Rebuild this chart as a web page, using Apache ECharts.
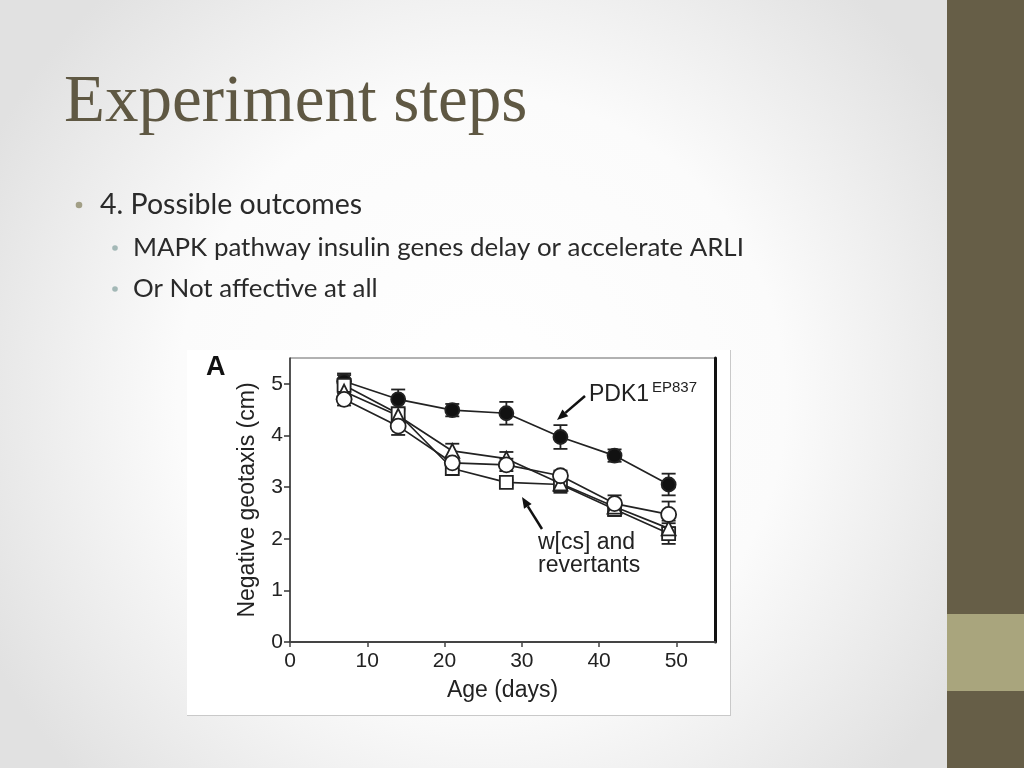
<!DOCTYPE html>
<html>
<head>
<meta charset="utf-8">
<script src="https://cdn.jsdelivr.net/npm/echarts@6/dist/echarts.min.js"></script>
<style>
html,body{margin:0;padding:0;width:1024px;height:768px;overflow:hidden;}
#chart{width:1024px;height:768px;}
</style>
</head>
<body>
<div id="chart"></div>
<script>
// ---- data ----
var days = [7, 14, 21, 28, 35, 42, 49];
var pdk1 = [5.05, 4.70, 4.49, 4.43, 3.97, 3.61, 3.05];
var pdk1Err = [0.15, 0.19, 0.12, 0.22, 0.23, 0.12, 0.21];
var wcsCircle = [4.70, 4.18, 3.47, 3.43, 3.22, 2.68, 2.47];
var wcsCircleErr = [0.12, 0.17, 0.12, 0.12, 0.10, 0.16, 0.25];
var revSquare = [4.97, 4.42, 3.36, 3.09, 3.05, 2.57, 2.10];
var revSquareErr = [0.20, 0.10, 0.08, 0.05, 0.16, 0.13, 0.20];
var revTriangle = [4.85, 4.38, 3.70, 3.55, 3.07, 2.62, 2.20];
var revTriangleErr = [0.10, 0.10, 0.14, 0.13, 0.12, 0.12, 0.15];
var xTicks = [0, 10, 20, 30, 40, 50];
var yTicks = [0, 1, 2, 3, 4, 5];

var slideTitle = 'Experiment steps';
var bullet1 = '4. Possible outcomes';
var bullet2a = 'MAPK pathway insulin genes delay or accelerate ARLI';
var bullet2b = 'Or Not affective at all';

var INK = '#222';
var SANS = '"Liberation Sans", Arial, sans-serif';

function pts(vals) { return days.map(function (d, i) { return [d, vals[i]]; }); }
function errPts(vals, errs) { return days.map(function (d, i) { return [d, vals[i], errs[i]]; }); }

function errSeries(name, vals, errs) {
  return {
    type: 'custom', name: name + ' err', z: 2,
    encode: { x: 0, y: 1 },
    data: errPts(vals, errs),
    renderItem: function (params, api) {
      var x = api.value(0), y = api.value(1), e = api.value(2);
      var t = api.coord([x, y + e]), b = api.coord([x, y - e]);
      var hw = 7;
      var st = { stroke: INK, lineWidth: 1.8 };
      return { type: 'group', children: [
        { type: 'line', shape: { x1: t[0], y1: t[1], x2: b[0], y2: b[1] }, style: st },
        { type: 'line', shape: { x1: t[0] - hw, y1: t[1], x2: t[0] + hw, y2: t[1] }, style: st },
        { type: 'line', shape: { x1: b[0] - hw, y1: b[1], x2: b[0] + hw, y2: b[1] }, style: st }
      ] };
    }
  };
}
function lineSeries(name, vals) {
  return { type: 'line', name: name, data: pts(vals), showSymbol: false, z: 3,
    lineStyle: { color: INK, width: 1.7 }, silent: true };
}
function markSeries(name, vals, symbol, size, fill, z) {
  return { type: 'scatter', name: name, data: pts(vals), symbol: symbol, symbolSize: size, z: z,
    itemStyle: { color: fill, borderColor: INK, borderWidth: 1.8, opacity: 1 } };
}

function arrow(x1, y1, x2, y2) {
  var ang = Math.atan2(y2 - y1, x2 - x1), L = 11, W = 4.5;
  var bx = x2 - L * Math.cos(ang), by = y2 - L * Math.sin(ang);
  var px = -Math.sin(ang) * W, py = Math.cos(ang) * W;
  return [
    { type: 'line', shape: { x1: x1, y1: y1, x2: bx, y2: by }, style: { stroke: '#111', lineWidth: 2.5 } },
    { type: 'polygon', shape: { points: [[x2, y2], [bx + px, by + py], [bx - px, by - py]] }, style: { fill: '#111' } }
  ];
}

var chart = echarts.init(document.getElementById('chart'));

var graphics = [
  // sidebar
  { type: 'rect', shape: { x: 947, y: 0, width: 77, height: 768 }, style: { fill: '#665e47' }, z: -10 },
  { type: 'rect', shape: { x: 947, y: 614, width: 77, height: 77 }, style: { fill: '#a9a57d' }, z: -9 },
  // figure panel
  { type: 'rect', shape: { x: 187, y: 350, width: 544, height: 366 }, style: { fill: '#ffffff' }, z: -8 },
  { type: 'line', shape: { x1: 730.5, y1: 350, x2: 730.5, y2: 716 }, style: { stroke: '#c9c9c9', lineWidth: 1 }, z: -7 },
  { type: 'line', shape: { x1: 187, y1: 715.5, x2: 731, y2: 715.5 }, style: { stroke: '#c9c9c9', lineWidth: 1 }, z: -7 },
  // slide title and bullets
  { type: 'text', x: 64, y: 103, style: { text: slideTitle, font: '67px "Liberation Serif", "Times New Roman", serif', fill: '#5f5843', textVerticalAlign: 'middle' } },
  { type: 'circle', shape: { cx: 79, cy: 205, r: 3.3 }, style: { fill: '#a29f86' } },
  { type: 'text', x: 100, y: 205, style: { text: bullet1, font: '28.5px Lato, "Noto Sans", sans-serif', fill: '#2a2a2a', textVerticalAlign: 'middle' } },
  { type: 'circle', shape: { cx: 115, cy: 248, r: 2.8 }, style: { fill: '#a3b8b6' } },
  { type: 'text', x: 133, y: 248, style: { text: bullet2a, font: '25.9px Lato, "Noto Sans", sans-serif', fill: '#2a2a2a', textVerticalAlign: 'middle' } },
  { type: 'circle', shape: { cx: 115, cy: 289, r: 2.8 }, style: { fill: '#a3b8b6' } },
  { type: 'text', x: 133, y: 289, style: { text: bullet2b, font: '25.9px Lato, "Noto Sans", sans-serif', fill: '#2a2a2a', textVerticalAlign: 'middle' } },
  // panel letter
  { type: 'text', x: 206, y: 368, style: { text: 'A', font: 'bold 27px ' + SANS, fill: '#111', textVerticalAlign: 'middle' } },
  // annotations
  { type: 'text', x: 589, y: 395, style: { text: 'PDK1', font: '23px ' + SANS, fill: INK, textVerticalAlign: 'middle' } },
  { type: 'text', x: 652, y: 388, style: { text: 'EP837', font: '15px ' + SANS, fill: INK, textVerticalAlign: 'middle' } },
  { type: 'text', x: 538, y: 543, style: { text: 'w[cs] and', font: '23px ' + SANS, fill: INK, textVerticalAlign: 'middle' } },
  { type: 'text', x: 538, y: 566, style: { text: 'revertants', font: '23px ' + SANS, fill: INK, textVerticalAlign: 'middle' } }
].concat(arrow(585, 396, 557, 420)).concat(arrow(542, 529, 522, 497));

var option = {
  animation: false,
  backgroundColor: {
    type: 'radial', x: 0.47, y: 0.52, r: 0.72,
    colorStops: [{ offset: 0, color: '#ffffff' }, { offset: 0.55, color: '#fbfbfb' }, { offset: 1, color: '#e1e1e1' }]
  },
  grid: { left: 290, right: 309, top: 358, bottom: 126, show: true, borderColor: '#666', borderWidth: 1, backgroundColor: 'transparent' },
  xAxis: {
    type: 'value', min: 0, max: 55, interval: 10,
    name: 'Age (days)', nameLocation: 'middle', nameGap: 37,
    nameTextStyle: { fontFamily: SANS, fontSize: 23, color: INK },
    axisLine: { show: true, lineStyle: { color: '#444', width: 2 } },
    axisTick: { show: true, length: 5, lineStyle: { color: '#444', width: 1.5 }, customValues: xTicks },
    axisLabel: { customValues: xTicks, fontFamily: SANS, fontSize: 21, color: INK, margin: 9 },
    splitLine: { show: false }
  },
  yAxis: [{
    type: 'value', min: 0, max: 5.5, interval: 1,
    name: 'Negative geotaxis (cm)', nameLocation: 'middle', nameGap: 31,
    nameTextStyle: { fontFamily: SANS, fontSize: 23, color: INK },
    axisLine: { show: true, lineStyle: { color: '#333', width: 1.5 } },
    axisTick: { show: true, length: 6, lineStyle: { color: '#333', width: 1.5 }, customValues: yTicks },
    axisLabel: { customValues: yTicks, fontFamily: SANS, fontSize: 21, color: INK, margin: 7 },
    splitLine: { show: false }
  }, {
    type: 'value', min: 0, max: 5.5, position: 'right',
    axisLine: { show: true, lineStyle: { color: '#111', width: 3 } },
    axisTick: { show: false }, axisLabel: { show: false }, splitLine: { show: false }
  }],
  series: [
    errSeries('PDK1', pdk1, pdk1Err),
    errSeries('square', revSquare, revSquareErr),
    errSeries('triangle', revTriangle, revTriangleErr),
    errSeries('circle', wcsCircle, wcsCircleErr),
    lineSeries('PDK1', pdk1),
    lineSeries('square', revSquare),
    lineSeries('triangle', revTriangle),
    lineSeries('circle', wcsCircle),
    markSeries('PDK1', pdk1, 'circle', 14, '#111', 4),
    markSeries('square', revSquare, 'rect', 13, '#fff', 5),
    markSeries('triangle', revTriangle, 'triangle', 14, '#fff', 6),
    markSeries('circle', wcsCircle, 'circle', 15, '#fff', 7)
  ],
  graphic: graphics
};
chart.setOption(option);
</script>
</body>
</html>
